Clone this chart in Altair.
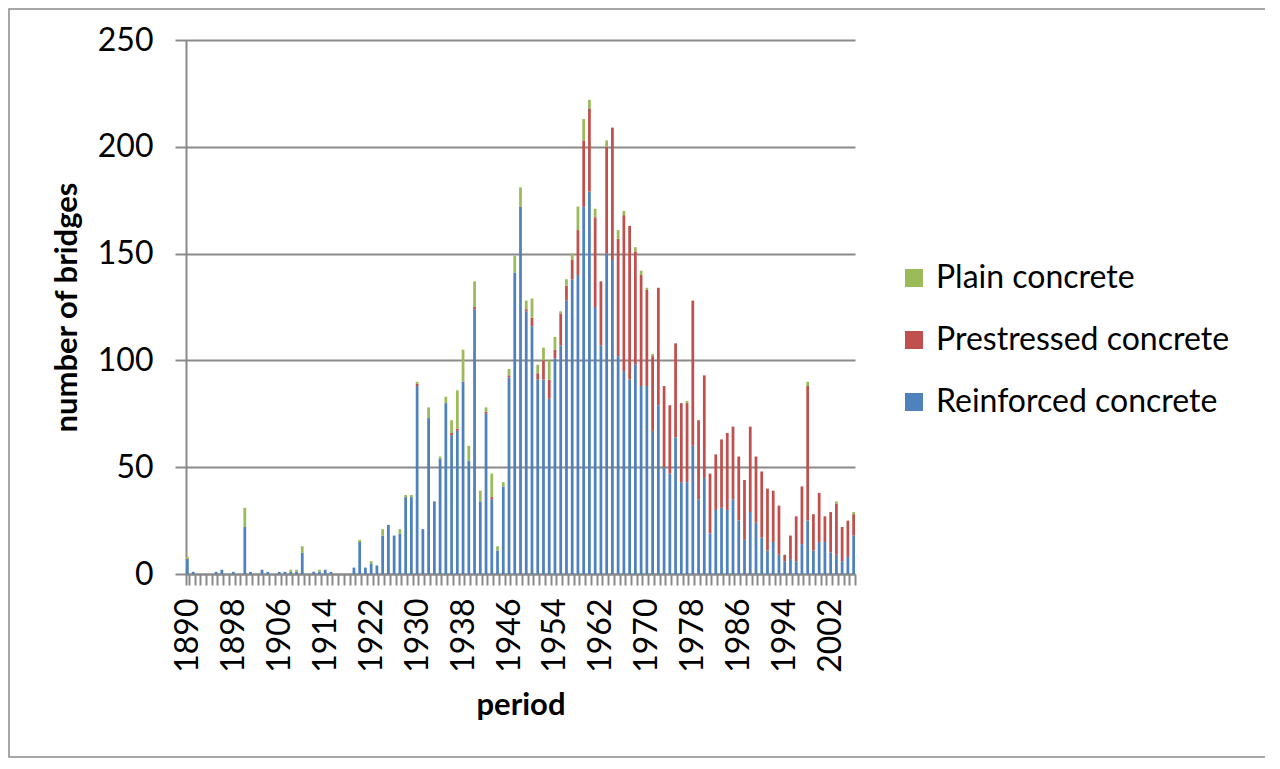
import altair as alt
import pandas as pd

font = "Lato"
grey = "#8a8a8a"

years = list(range(1890, 2007))

reinforced = [
    7, 1, 0, 0, 0, 1, 2, 0, 1, 0,
    22, 1, 0, 2, 1, 0, 1, 1, 1, 1,
    10, 0, 1, 1, 2, 1, 0, 0, 0, 3,
    15, 3, 5, 4, 18, 23, 18, 19, 36, 36,
    88, 21, 73, 34, 54, 80, 65, 67, 90, 53,
    124, 34, 75, 35, 11, 41, 92, 141, 172, 123,
    116, 91, 91, 82, 101, 107, 128, 138, 140, 172,
    179, 125, 107, 150, 147, 102, 95, 91, 98, 88,
    88, 67, 79, 50, 47, 64, 43, 43, 60, 35,
    45, 19, 30, 31, 30, 35, 25, 16, 29, 24,
    17, 11, 15, 9, 6, 7, 6, 14, 25, 11,
    15, 15, 10, 9, 6, 8, 18,
]
prestressed = [
    0, 0, 0, 0, 0, 0, 0, 0, 0, 0,
    0, 0, 0, 0, 0, 0, 0, 0, 0, 0,
    0, 0, 0, 0, 0, 0, 0, 0, 0, 0,
    0, 0, 0, 0, 0, 0, 0, 0, 0, 0,
    1, 0, 0, 0, 0, 0, 1, 1, 0, 0,
    1, 0, 1, 1, 0, 0, 1, 0, 0, 1,
    4, 3, 9, 9, 4, 15, 7, 9, 21, 31,
    39, 42, 30, 50, 62, 55, 73, 72, 53, 52,
    45, 35, 55, 38, 32, 44, 37, 37, 68, 37,
    48, 28, 26, 32, 36, 34, 30, 28, 40, 31,
    31, 29, 24, 23, 3, 11, 21, 27, 63, 17,
    23, 12, 19, 24, 16, 17, 10,
]
plain = [
    1, 0, 0, 0, 0, 0, 0, 0, 0, 0,
    9, 0, 0, 0, 0, 0, 0, 0, 1, 1,
    3, 0, 0, 1, 0, 0, 0, 0, 0, 0,
    1, 0, 1, 0, 3, 0, 0, 2, 1, 1,
    1, 0, 5, 0, 1, 3, 6, 18, 15, 7,
    12, 5, 2, 11, 2, 2, 3, 8, 9, 4,
    9, 4, 6, 9, 6, 1, 3, 3, 11, 10,
    4, 4, 0, 3, 0, 4, 2, 0, 2, 2,
    1, 1, 0, 0, 0, 0, 0, 1, 0, 0,
    0, 0, 0, 0, 0, 0, 0, 0, 0, 0,
    0, 0, 0, 0, 0, 0, 0, 0, 2, 0,
    0, 0, 0, 1, 0, 0, 1,
]

types = ["Plain concrete", "Prestressed concrete", "Reinforced concrete"]
colors = ["#9bbb59", "#c0504d", "#4f81bd"]

rows = []
for i, year in enumerate(years):
    rows.append({"year": str(year), "type": "Reinforced concrete", "bridges": reinforced[i], "stack": 0})
    rows.append({"year": str(year), "type": "Prestressed concrete", "bridges": prestressed[i], "stack": 1})
    rows.append({"year": str(year), "type": "Plain concrete", "bridges": plain[i], "stack": 2})
df = pd.DataFrame(rows)

bars = alt.Chart(df).mark_bar().encode(
    x=alt.X("year:O",
            title="period",
            sort=[str(y) for y in years],
            scale=alt.Scale(paddingInner=0.52, paddingOuter=0),
            axis=alt.Axis(
                labelExpr="(toNumber(datum.value) - 1890) % 8 == 0 ? datum.value : ''",
                labelAngle=270,
                labelFont=font, labelFontSize=32, labelColor="#000000",
                labelPadding=13, labelOverlap=False,
                tickBand="extent", tickColor=grey, tickWidth=2, tickSize=11,
                domainColor=grey, domainWidth=2,
                titleFont=font, titleFontSize=31, titleFontWeight="bold",
                titleColor="#000000", titlePadding=18)),
    y=alt.Y("bridges:Q",
            stack="zero",
            title="number of bridges",
            scale=alt.Scale(domain=[0, 250], nice=False),
            axis=alt.Axis(
                values=[0, 50, 100, 150, 200, 250],
                labelFont=font, labelFontSize=32, labelColor="#000000",
                labelPadding=22,
                grid=True, gridColor=grey, gridWidth=2,
                tickColor=grey, tickWidth=2, tickSize=11,
                domainColor=grey, domainWidth=2,
                titleFont=font, titleFontSize=31, titleFontWeight="bold",
                titleColor="#000000", titlePadding=14)),
    color=alt.Color("type:N",
                    scale=alt.Scale(domain=types, range=colors),
                    legend=alt.Legend(
                        title=None, orient="none", legendX=712, legendY=222,
                        symbolType="square", symbolSize=324, symbolStrokeWidth=0,
                        symbolOpacity=1,
                        labelFont=font, labelFontSize=32, labelColor="#000000",
                        labelOffset=6, rowPadding=30, padding=0,
                        labelLimit=400)),
    order=alt.Order("stack:Q"),
)

frame = alt.Chart(pd.DataFrame({"f": [0]})).mark_rect(
    filled=False, stroke=grey, strokeWidth=1.5
).encode(
    x=alt.value(-177), x2=alt.value(1084),
    y=alt.value(-31), y2=alt.value(717),
)

chart = alt.layer(frame, bars).properties(
    width=669,
    height=534,
    autosize="none",
    padding={"left": 178, "top": 32, "right": 410, "bottom": 185},
    background="white",
).configure_view(stroke=None)

chart.save("out.html", embed_options={"renderer": "svg", "actions": False})
